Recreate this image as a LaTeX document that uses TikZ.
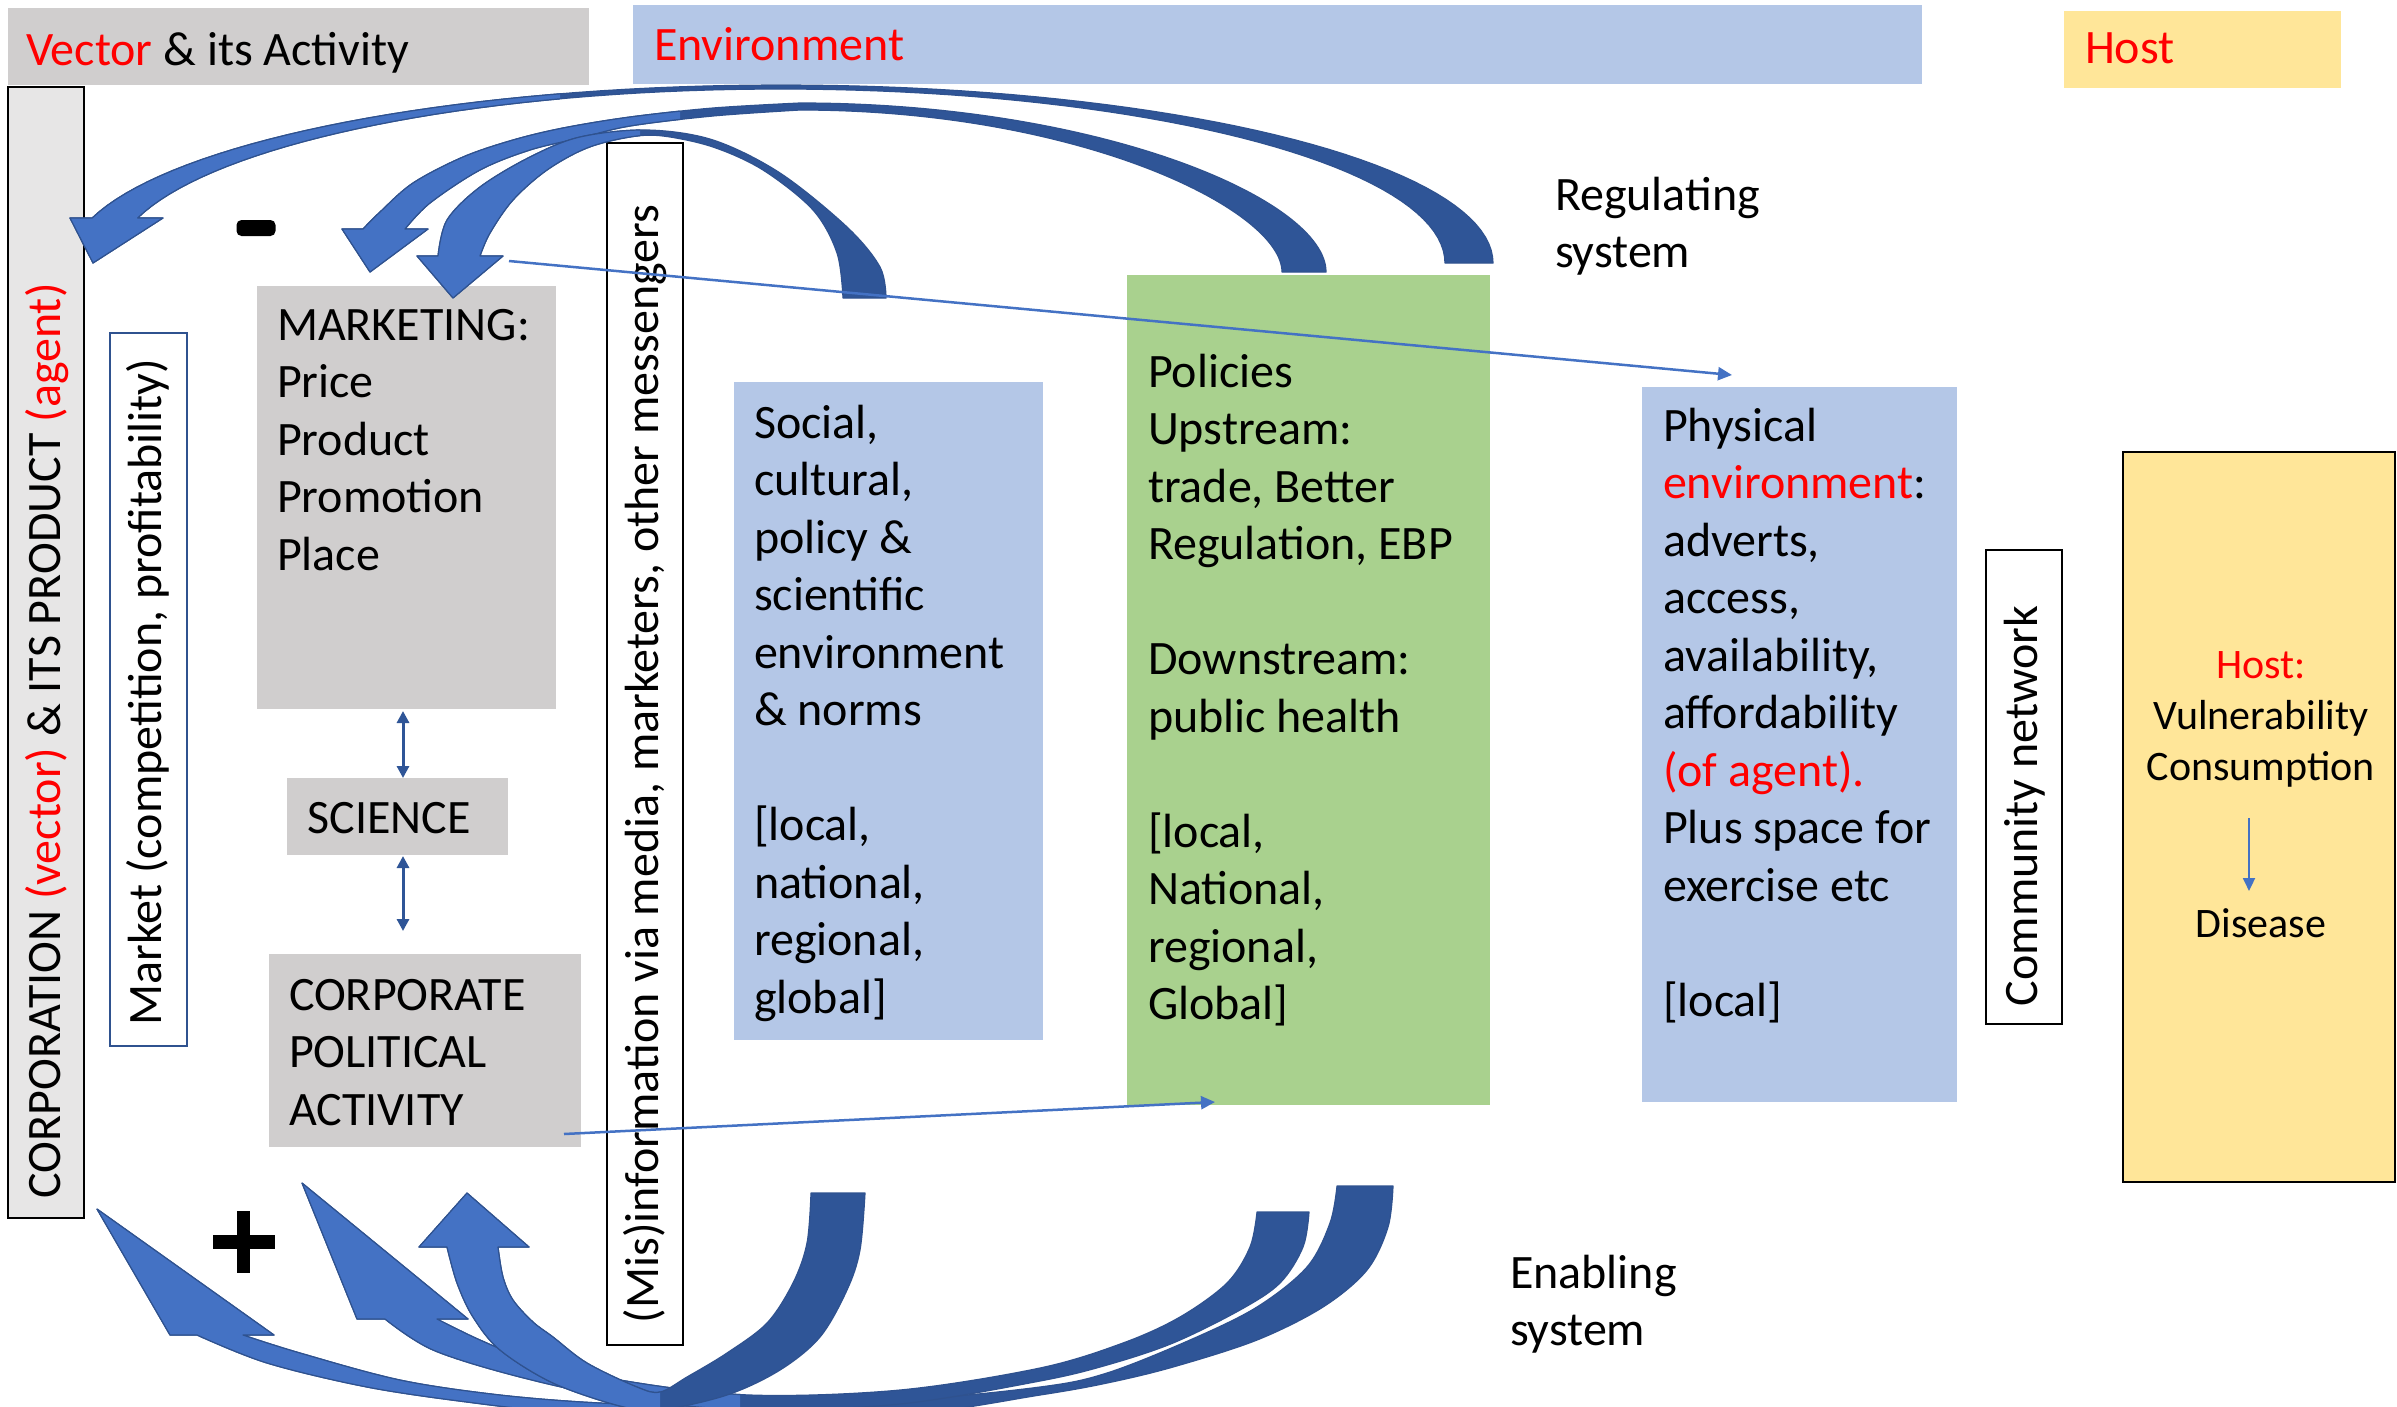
\documentclass[tikz,border=0pt]{standalone}
\usepackage{fontspec}
\setmainfont{Carlito}
\usetikzlibrary{arrows.meta}
\newcommand\mainfs{\fontsize{48}{57.5}\selectfont}
\newcommand\hostfs{\fontsize{42}{51}\selectfont}
\definecolor{hdrgray}{HTML}{D0CECE}
\definecolor{corpgray}{HTML}{E7E6E6}
\definecolor{envblue}{HTML}{B4C7E7}
\definecolor{polgreen}{HTML}{A9D18E}
\definecolor{hostyel}{HTML}{FFE699}
\definecolor{arrlight}{HTML}{4472C4}
\definecolor{arrdark}{HTML}{2F5597}
\definecolor{arredge}{HTML}{2F528F}
\definecolor{txtred}{HTML}{FF0000}
\begin{document}
\begin{tikzpicture}[x=1pt,y=-1pt,
  box/.style={rectangle,inner sep=0pt,outer sep=0pt,anchor=north west},
  txt/.style={inner sep=0pt,outer sep=0pt,align=left,font=\mainfs,anchor=north west},
  vtxt/.style={inner sep=0pt,outer sep=0pt,font=\mainfs,rotate=90},
  darkpart/.style={fill=arrdark,draw=arredge,line width=1.2pt,line join=round},
  lightpart/.style={fill=arrlight,draw=arredge,line width=1.2pt,line join=round},
  thinarrow/.style={draw=arrlight,line width=2.5pt,-{Triangle[length=14pt,width=13pt]}},
  dblarrow/.style={draw=arrdark,line width=3pt,{Triangle[length=12pt,width=12pt]}-{Triangle[length=12pt,width=12pt]}}
]
\useasboundingbox (0,0) rectangle (2397,1406);
\fill[white] (0,0) rectangle (2397,1406);

% header bands
\node[box,fill=hdrgray,minimum width=581pt,minimum height=77pt] (vhdr) at (8,8) {};
\node[box,fill=envblue,minimum width=1289pt,minimum height=79pt] (ehdr) at (633,5) {};
\node[box,fill=hostyel,minimum width=277pt,minimum height=77pt] (hhdr) at (2064,11) {};
\node[txt] (vhdrT) at (26,32) {{\color{txtred}Vector} \& its Activity};
\node[txt] (ehdrT) at (654,27) {{\color{txtred}Environment}};
\node[txt] (hhdrT) at (2085,33) {{\color{txtred}Host}};

% boxes
\node[box,fill=corpgray,draw=black,line width=2pt,minimum width=76pt,minimum height=1131pt] (corp) at (8,87) {};
\node[box,fill=white,draw=arredge,line width=2pt,minimum width=77pt,minimum height=713pt] (market) at (110,333) {};
\node[box,fill=hdrgray,minimum width=299pt,minimum height=423pt] (mkt) at (257,286) {};
\node[box,fill=hdrgray,minimum width=221pt,minimum height=77pt] (sci) at (287,778) {};
\node[box,fill=hdrgray,minimum width=312pt,minimum height=193pt] (cpa) at (269,954) {};
\node[box,fill=white,draw=black,line width=2.5pt,minimum width=76pt,minimum height=1202pt] (mis) at (607,143) {};
\node[box,fill=envblue,minimum width=309pt,minimum height=658pt] (soc) at (734,382) {};
\node[box,fill=polgreen,minimum width=363pt,minimum height=830pt] (pol) at (1127,275) {};
\node[box,fill=envblue,minimum width=315pt,minimum height=715pt] (phy) at (1642,387) {};
\node[box,fill=white,draw=black,line width=2.5pt,minimum width=76pt,minimum height=474pt] (com) at (1986,550) {};
\node[box,fill=hostyel,draw=black,line width=2.5pt,minimum width=272pt,minimum height=730pt] (host) at (2123,452) {};

% texts
\node[vtxt] (corpT) at (47,741) {CORPORATION {\color{txtred}(vector)} \& ITS PRODUCT {\color{txtred}(agent)}};
\node[vtxt] (marketT) at (148,692) {Market (competition, profitability)};
\node[vtxt] (misT) at (645,764) {(Mis)information via media, marketers, other messengers};
\node[vtxt] (comT) at (2025,806) {Community network};
\node[txt] (mktT) at (277,309) {MARKETING:\\Price\\Product\\Promotion\\Place};
\node[font=\mainfs,inner sep=0pt] (sciT) at (389,818) {SCIENCE};
\node[txt] (cpaT) at (289,979) {CORPORATE\\POLITICAL\\ACTIVITY};
\node[txt] (socT) at (754,405) {Social,\\cultural,\\policy \&\\scientific\\environment\\\& norms\\[57.5pt]{[}local,\\national,\\regional,\\global]};
\node[txt] (polT) at (1148,354) {Policies\\Upstream:\\trade, Better\\Regulation, EBP\\[57.5pt]Downstream:\\public health\\[57.5pt]{[}local,\\National,\\regional,\\Global]};
\node[txt] (phyT) at (1663,408) {Physical\\{\color{txtred}environment}:\\adverts,\\access,\\availability,\\affordability\\{\color{txtred}(of agent).}\\Plus space for\\exercise etc\\[57.5pt]{[}local]};
\node[txt] (regT) at (1555,177) {Regulating\\system};
\node[txt] (enaT) at (1510,1255) {Enabling\\system};
\node[inner sep=0pt,font=\hostfs,align=center,anchor=north] (hostT) at (2261,651) {{\color{txtred}Host:}\\Vulnerability\\Consumption};
\node[inner sep=0pt,font=\hostfs] (disT) at (2261,923) {Disease};

% minus and plus signs
\node[fill=black,rounded corners=5pt,minimum width=39pt,minimum height=16pt,inner sep=0pt] (minus) at (256,228) {};
\node[fill=black,minimum width=62pt,minimum height=14pt,inner sep=0pt] (plusH) at (244,1242) {};
\node[fill=black,minimum width=13pt,minimum height=62pt,inner sep=0pt] (plusV) at (243.5,1242) {};

% ---- top curved arrows ----
\def\pathA{plot[domain=0:165.36,samples=80,variable=\t] ({781+712*cos(\t)},{263-178*sin(\t)}) -- (70,218) -- (93,263) -- (163,218) -- plot[domain=165.0:0,samples=80,variable=\t] ({780+665*cos(\t)},{263-174*sin(\t)}) -- cycle}
\path[darkpart] \pathA;
\begin{scope}\clip (0,0) rectangle (560,1406); \path[lightpart] \pathA; \end{scope}

\def\pathB{(1326,272) .. controls (1326,200) and (1100,103) .. (800,103) -- plot[smooth,tension=0.55] coordinates {(800,103) (713,108) (630,117) (563,128) (513,140) (463,157) (413,183) (380,212) (363,229)} -- (342,229) -- (370,272) -- (428,229) -- (405,229) -- plot[smooth,tension=0.55] coordinates {(405,229) (430,203) (480,170) (530,150) (580,138) (630,126) (713,116) (800,110)} .. controls (1080,110) and (1282,210) .. (1282,272) -- cycle}
\path[darkpart] \pathB;
\begin{scope}\clip (0,0) rectangle (680,1406); \path[lightpart] \pathB; \end{scope}

\def\pathC{plot[smooth,tension=0.55] coordinates {(886,298) (880,267) (847,227) (780,173) (713,140) (647,130) (580,137) (530,157) (480,187) (447,220) (438,256)} -- (417,256) -- (453,298) -- (503,256) -- (480,256) -- plot[smooth,tension=0.55] coordinates {(480,256) (490,233) (513,200) (547,170) (587,148) (630,137) (663,136) (713,147) (763,170) (813,210) (837,253) (843,298)} -- cycle}
\path[darkpart] \pathC;
\begin{scope}\clip (0,0) rectangle (640,1406); \path[lightpart] \pathC; \end{scope}

% ---- bottom curved arrows ----
\def\pathF{plot[smooth,tension=0.55] coordinates {(243,1335) (300,1353) (400,1380) (500,1395) (600,1403) (700,1405) (900,1400) (1040,1387) (1107,1373) (1190,1340) (1257,1307) (1307,1267) (1330,1223) (1337,1186)} -- (1393,1186) -- plot[smooth,tension=0.55] coordinates {(1393,1186) (1388,1227) (1367,1270) (1323,1307) (1257,1340) (1173,1367) (1107,1383) (1040,1395) (900,1415) (700,1418) (560,1412) (467,1402) (367,1387) (267,1363) (197,1335)} -- (170,1335) -- (97,1209) -- (274,1335) -- cycle}
\path[darkpart] \pathF;
\begin{scope}\clip (0,0) rectangle (720,1406); \path[lightpart] \pathF; \end{scope}

\def\pathE{plot[smooth,tension=0.55] coordinates {(437,1319) (480,1340) (520,1355) (620,1380) (750,1395) (900,1390) (1040,1368) (1123,1343) (1180,1317) (1227,1283) (1250,1247) (1257,1212)} -- (1309,1212) -- plot[smooth,tension=0.55] coordinates {(1309,1212) (1303,1247) (1280,1283) (1240,1310) (1173,1343) (1107,1365) (1040,1381) (900,1404) (750,1410) (620,1398) (520,1377) (433,1350) (385,1319)} -- (357,1319) -- (302,1183) -- (468,1319) -- cycle}
\path[darkpart] \pathE;
\begin{scope}\clip (0,0) rectangle (740,1406); \path[lightpart] \pathE; \end{scope}

\def\pathD{plot[smooth,tension=0.55] coordinates {(498,1247) (503,1277) (513,1300) (533,1322) (553,1337) (587,1363) (637,1387) (660,1392) (687,1377) (727,1353) (767,1323) (793,1283) (807,1243) (811,1193)} -- (865,1193) -- plot[smooth,tension=0.55] coordinates {(865,1193) (860,1250) (847,1290) (820,1337) (780,1370) (727,1395) (660,1410) (620,1406) (553,1383) (500,1350) (473,1317) (457,1283) (447,1247)} -- (419,1247) -- (467,1193) -- (529,1247) -- cycle}
\path[darkpart] \pathD;
\begin{scope}\clip (0,0) rectangle (660,1406); \path[lightpart] \pathD; \end{scope}

% ---- thin connectors ----
\coordinate (t1s) at (509,261);
\coordinate (t1e) at (1732,375);
\coordinate (t2s) at (564,1134);
\coordinate (t2e) at (1215,1102);
\draw[thinarrow] (t1s) -- (t1e);
\draw[thinarrow] (t2s) -- (t2e);

\coordinate (d1a) at (403,711);
\coordinate (d1b) at (403,778);
\coordinate (d2a) at (403,856);
\coordinate (d2b) at (403,931);
\draw[dblarrow] (d1a) -- (d1b);
\draw[dblarrow] (d2a) -- (d2b);

\coordinate (ha) at (2249,818);
\coordinate (hb) at (2249,891);
\draw[draw=arrlight,line width=2pt,-{Triangle[length=13pt,width=12pt]}] (ha) -- (hb);
\end{tikzpicture}
\end{document}
